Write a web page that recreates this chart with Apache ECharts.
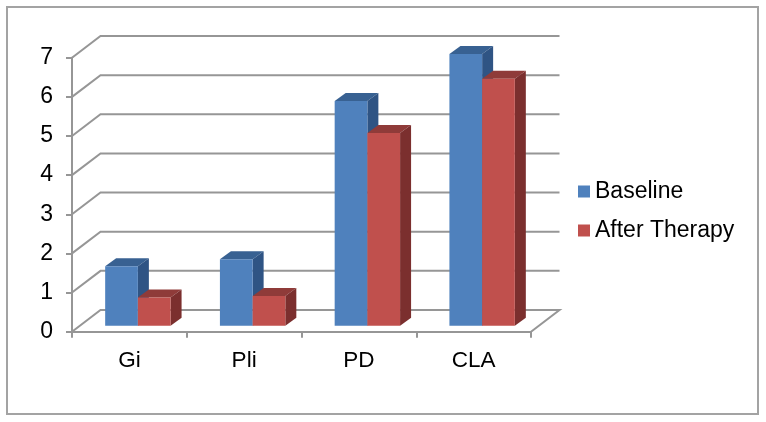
<!DOCTYPE html>
<html>
<head>
<meta charset="utf-8">
<style>
html,body{margin:0;padding:0;background:#fff;}
#chart{width:766px;height:422px;}
</style>
</head>
<body>
<div id="chart"></div>
<script src="https://cdn.jsdelivr.net/npm/echarts@6/dist/echarts.min.js"></script>
<script>
var categories = ['Gi', 'Pli', 'PD', 'CLA'];
var baseline = [1.52, 1.7, 5.74, 6.94];
var afterTherapy = [0.72, 0.76, 4.92, 6.31];
var yTicks = [0, 1, 2, 3, 4, 5, 6, 7];

var fontName = '"Liberation Sans", Arial, sans-serif';
var gridColor = '#969696';

// 3d look: wall sits behind the axis plane, bars sit partway in
var wallDx = 28.5, wallDy = 21.7;
var planeDx = 8.5, planeDy = 6;
var depthDx = 11, depthDy = 8;
var barWidth = 0.285;

function renderWall(params, api) {
  var v = api.value(0);
  var left = api.coord([0, v]);
  var band = api.size([1, 0])[0];
  var x0 = left[0] - band / 2;
  var x1 = x0 + band * categories.length;
  var y = left[1];
  var pts = [[x0, y], [x0 + wallDx, y - wallDy], [x1 + wallDx, y - wallDy]];
  if (v === 0) pts.push([x1, y]);
  return {
    type: 'polyline',
    shape: { points: pts },
    style: { stroke: gridColor, lineWidth: 2, fill: null }
  };
}

function makeBar(slot, front, top, side) {
  return function (params, api) {
    var c = api.coord([api.value(0), api.value(1)]);
    var base = api.coord([api.value(0), 0]);
    var w = api.size([1, 0])[0] * barWidth;
    var x0 = c[0] + planeDx + (slot - 1) * w;
    var x1 = x0 + w;
    var yt = c[1] - planeDy;
    var yb = base[1] - planeDy;
    return {
      type: 'group',
      children: [
        { type: 'polygon', shape: { points: [[x0, yt], [x1, yt], [x1 + depthDx, yt - depthDy], [x0 + depthDx, yt - depthDy]] }, style: { fill: top } },
        { type: 'polygon', shape: { points: [[x1, yt], [x1 + depthDx, yt - depthDy], [x1 + depthDx, yb - depthDy], [x1, yb]] }, style: { fill: side } },
        { type: 'rect', shape: { x: x0, y: yt, width: w, height: yb - yt }, style: { fill: front } }
      ]
    };
  };
}

function toPoints(values) {
  return values.map(function (v, i) { return [i, v]; });
}

var myChart = echarts.init(document.getElementById('chart'), null, { renderer: 'canvas' });
var option = {
  animation: false,
  backgroundColor: '#fff',
  textStyle: { fontFamily: fontName },
  graphic: [{
    type: 'rect',
    silent: true,
    z: -1,
    shape: { x: 7, y: 7, width: 751, height: 407 },
    style: { fill: '#fff', stroke: '#a3a3a3', lineWidth: 2 }
  }],
  grid: { left: 72, right: 235, top: 57.7, bottom: 90.3 },
  legend: {
    orient: 'vertical',
    left: 573,
    top: 175,
    icon: 'rect',
    itemWidth: 12,
    itemHeight: 12,
    itemGap: 16,
    data: ['Baseline', 'After Therapy'],
    selectedMode: false,
    textStyle: { color: '#000', fontSize: 23, fontFamily: fontName }
  },
  xAxis: {
    type: 'category',
    data: categories,
    axisLine: { lineStyle: { color: gridColor, width: 2 } },
    axisTick: { show: true, length: 6, lineStyle: { color: gridColor, width: 2 } },
    axisLabel: { color: '#000', fontSize: 22.5, fontFamily: fontName, margin: 18 },
    splitLine: { show: false }
  },
  yAxis: {
    type: 'value',
    min: 0,
    max: 7,
    interval: 1,
    axisLine: { show: true, lineStyle: { color: gridColor, width: 2 } },
    axisTick: { show: true, length: 6, lineStyle: { color: gridColor, width: 2 } },
    axisLabel: { color: '#000', fontSize: 23, fontFamily: fontName, margin: 19 },
    splitLine: { show: false }
  },
  series: [
    {
      type: 'custom',
      silent: true,
      z: 1,
      clip: false,
      renderItem: renderWall,
      data: yTicks.map(function (v) { return [v]; }),
      encode: { y: 0 }
    },
    {
      name: 'Baseline',
      type: 'custom',
      z: 2,
      clip: false,
      itemStyle: { color: '#4F81BD' },
      renderItem: makeBar(0, '#4F81BD', '#386192', '#2F5484'),
      data: toPoints(baseline),
      encode: { x: 0, y: 1 }
    },
    {
      name: 'After Therapy',
      type: 'custom',
      z: 3,
      clip: false,
      itemStyle: { color: '#C0504D' },
      renderItem: makeBar(1, '#C0504D', '#8F3B39', '#7B2F2E'),
      data: toPoints(afterTherapy),
      encode: { x: 0, y: 1 }
    }
  ]
};
myChart.setOption(option);
</script>
</body>
</html>
